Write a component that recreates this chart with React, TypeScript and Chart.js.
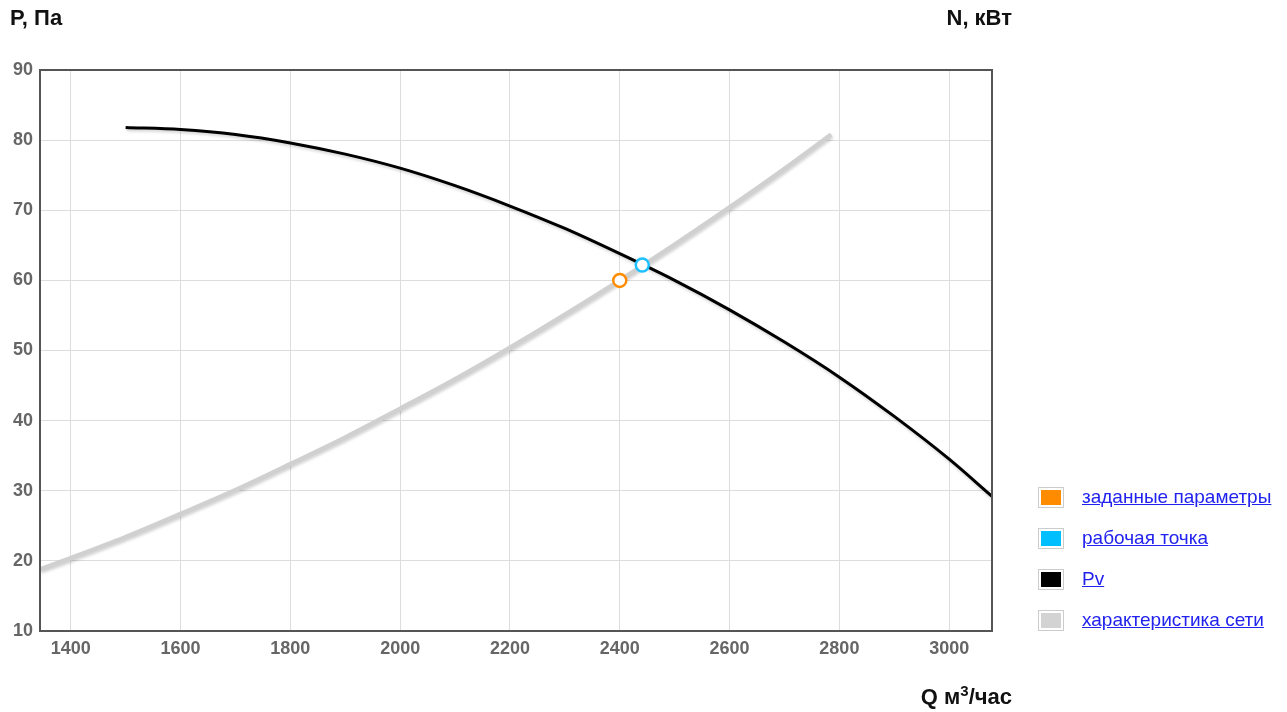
import React, { useEffect, useRef } from "react";
import { Chart, registerables } from "chart.js";

Chart.register(...registerables);

const pvQ = [1500, 1600, 1700, 1800, 1900, 2000, 2100, 2200, 2300, 2400, 2500, 2600, 2700, 2800, 2900, 3000, 3078];
const pvP = [81.8, 81.5, 80.8, 79.6, 78.0, 76.0, 73.5, 70.6, 67.4, 63.8, 60.0, 55.8, 51.2, 46.2, 40.6, 34.5, 29.2];

const netQ = [1344, 1400, 1500, 1600, 1700, 1800, 1900, 2000, 2100, 2200, 2300, 2400, 2500, 2600, 2700, 2785];
const netP = [18.8, 20.4, 23.4, 26.7, 30.1, 33.8, 37.6, 41.7, 45.9, 50.4, 55.1, 60.0, 65.1, 70.4, 75.9, 80.8];

const designPoint = { q: 2400, p: 60 };
const workPoint = { q: 2441, p: 62.2 };

const xTicks = [1400, 1600, 1800, 2000, 2200, 2400, 2600, 2800, 3000];
const yTicks = [10, 20, 30, 40, 50, 60, 70, 80, 90];

const legendItems = [
  { label: "заданные параметры", color: "#ff8c00" },
  { label: "рабочая точка", color: "#00bfff" },
  { label: "Pv", color: "#000000" },
  { label: "характеристика сети", color: "#d3d3d3" },
];

const FONT = "'Liberation Sans', Arial, sans-serif";

const shadowPlugin = {
  id: "lineShadow",
  beforeDatasetDraw(chart: any, args: any) {
    const ds = chart.data.datasets[args.index];
    if (ds.shadow) {
      const ctx = chart.ctx;
      ctx.save();
      ctx.shadowColor = "rgba(0,0,0,0.18)";
      ctx.shadowBlur = 3;
      ctx.shadowOffsetX = 1;
      ctx.shadowOffsetY = 2;
    }
  },
  afterDatasetDraw(chart: any, args: any) {
    const ds = chart.data.datasets[args.index];
    if (ds.shadow) chart.ctx.restore();
  },
};

const framePlugin = {
  id: "frame",
  afterDraw(chart: any) {
    const { ctx, chartArea } = chart;
    ctx.save();
    ctx.strokeStyle = "#555555";
    ctx.lineWidth = 2;
    ctx.strokeRect(chartArea.left, chartArea.top, chartArea.right - chartArea.left, chartArea.bottom - chartArea.top);
    ctx.restore();
  },
};

export default function App() {
  const ref = useRef<HTMLCanvasElement>(null);

  useEffect(() => {
    document.body.style.margin = "0";
    const chart = new Chart(ref.current!, {
      type: "line",
      data: {
        datasets: [
          {
            label: "заданные параметры",
            data: [{ x: designPoint.q, y: designPoint.p }],
            showLine: false,
            pointRadius: 6.5,
            pointBorderWidth: 2.5,
            pointBackgroundColor: "#ffffff",
            pointBorderColor: "#ff8c00",
            borderColor: "#ff8c00",
            order: 0,
          } as any,
          {
            label: "рабочая точка",
            data: [{ x: workPoint.q, y: workPoint.p }],
            showLine: false,
            pointRadius: 6.5,
            pointBorderWidth: 2.5,
            pointBackgroundColor: "#ffffff",
            pointBorderColor: "#1ec0ff",
            borderColor: "#1ec0ff",
            order: 0,
          } as any,
          {
            label: "Pv",
            data: pvQ.map((q, i) => ({ x: q, y: pvP[i] })),
            borderColor: "#000000",
            borderWidth: 3,
            pointRadius: 0,
            cubicInterpolationMode: "monotone",
            shadow: true,
            order: 2,
          } as any,
          {
            label: "характеристика сети",
            data: netQ.map((q, i) => ({ x: q, y: netP[i] })),
            borderColor: "#d0d0d0",
            borderWidth: 4.5,
            pointRadius: 0,
            cubicInterpolationMode: "monotone",
            shadow: true,
            order: 1,
          } as any,
        ],
      },
      options: {
        animation: false,
        responsive: false,
        events: [],
        layout: { padding: { left: 0, top: 70, right: 295, bottom: 41 } },
        plugins: { legend: { display: false }, tooltip: { enabled: false } },
        scales: {
          x: {
            type: "linear",
            min: 1344,
            max: 3078,
            afterBuildTicks: (s: any) => {
              s.ticks = xTicks.map((v) => ({ value: v }));
            },
            afterFit: (s: any) => {
              s.height = 40;
            },
            grid: { color: "#dddddd", lineWidth: 1, drawTicks: false },
            border: { display: false },
            ticks: {
              padding: 7,
              color: "#666666",
              font: { family: FONT, size: 18, weight: "bold" },
              callback: (v: any) => String(v),
            },
          },
          y: {
            type: "linear",
            min: 10,
            max: 90,
            afterBuildTicks: (s: any) => {
              s.ticks = yTicks.map((v) => ({ value: v }));
            },
            afterFit: (s: any) => {
              s.width = 40;
            },
            grid: { color: "#dddddd", lineWidth: 1, drawTicks: false },
            border: { display: false },
            ticks: {
              padding: 7,
              color: "#666666",
              font: { family: FONT, size: 18, weight: "bold" },
              callback: (v: any) => String(v),
            },
          },
        },
      } as any,
      plugins: [shadowPlugin, framePlugin],
    });
    return () => chart.destroy();
  }, []);

  const titleStyle: React.CSSProperties = {
    position: "absolute",
    fontFamily: FONT,
    fontWeight: "bold",
    fontSize: 22,
    color: "#111111",
    whiteSpace: "nowrap",
    lineHeight: "24px",
  };

  return (
    <div style={{ position: "absolute", left: 0, top: 0, width: 1287, height: 712, background: "#ffffff" }}>
      <canvas ref={ref} width={1287} height={712} style={{ position: "absolute", left: 0, top: 0, width: 1287, height: 712 }} />
      <div style={{ ...titleStyle, left: 10, top: 6 }}>P, Па</div>
      <div style={{ ...titleStyle, right: 1287 - 1012, top: 6 }}>N, кВт</div>
      <div style={{ ...titleStyle, right: 1287 - 1012, top: 685 }}>
        Q м<sup style={{ fontSize: 15, lineHeight: 0 }}>3</sup>/час
      </div>
      <div style={{ position: "absolute", left: 1038, top: 487 }}>
        {legendItems.map((it, i) => (
          <div key={i} style={{ position: "relative", height: 41 }}>
            <div
              style={{
                position: "absolute",
                left: 0,
                top: 0,
                width: 20,
                height: 15,
                border: "1px solid #cccccc",
                padding: 2,
              }}
            >
              <div style={{ width: 20, height: 15, background: it.color }} />
            </div>
            <a
              href="#"
              style={{
                position: "absolute",
                left: 44,
                top: -1,
                fontFamily: FONT,
                fontSize: 19,
                color: "#2222ee",
                textDecoration: "underline",
                whiteSpace: "nowrap",
              }}
            >
              {it.label}
            </a>
          </div>
        ))}
      </div>
    </div>
  );
}
